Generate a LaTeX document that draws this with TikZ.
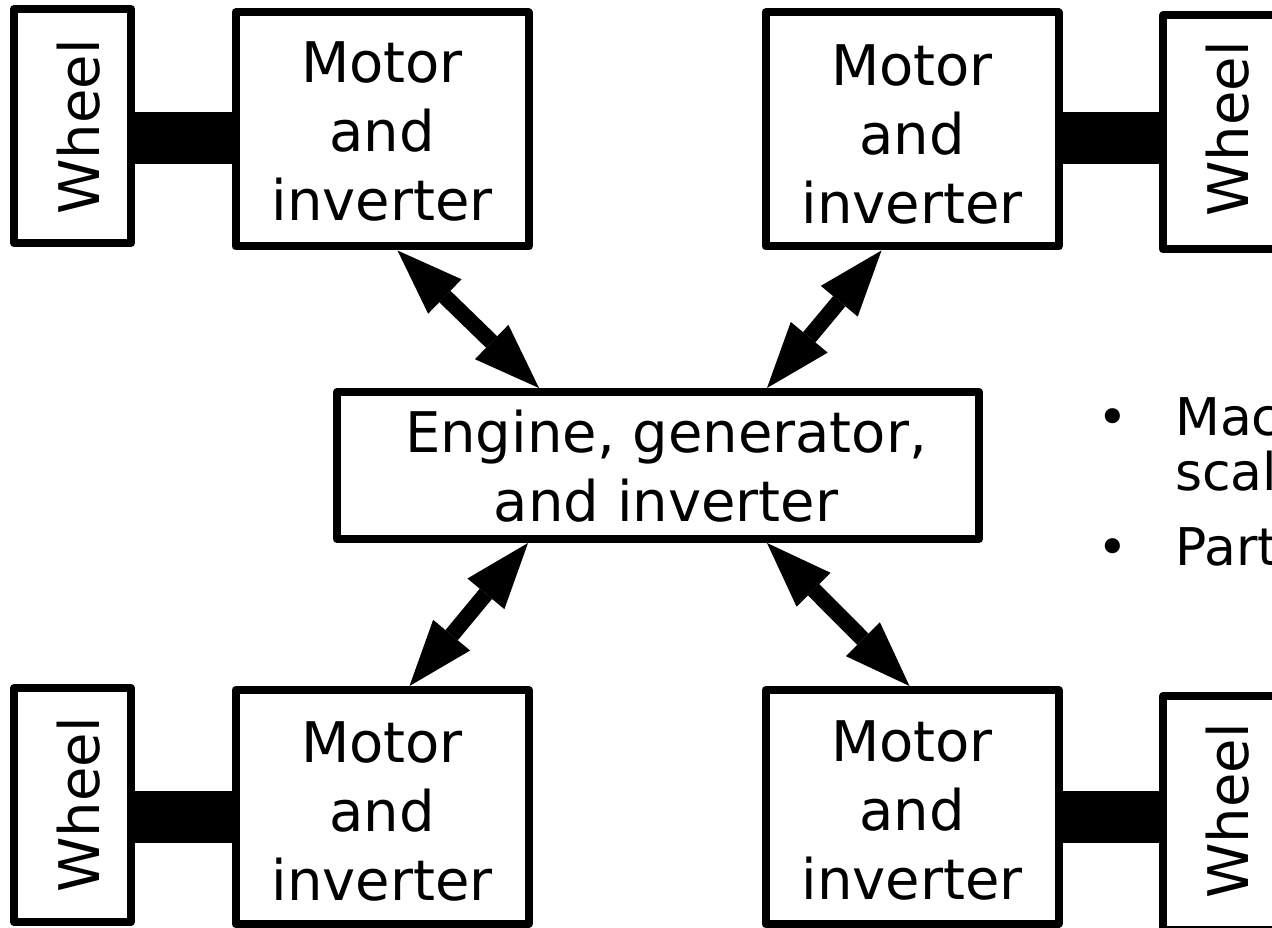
\documentclass[tikz,border=0pt]{standalone}
\usepackage{fontspec}
\setmainfont{DejaVu Sans}
\usetikzlibrary{arrows.meta,calc}
\begin{document}
\begin{tikzpicture}[x=1pt,y=-1pt,
  box/.style={draw=black, line width=8pt, line join=round, fill=white, inner sep=0pt},
  wheelbox/.style={box, minimum width=117pt, minimum height=234pt},
  motorbox/.style={box, minimum width=293pt, minimum height=234pt},
  shaft/.style={draw=black, line width=52pt, line cap=butt},
  link/.style={draw=black, line width=16pt,
    {Triangle[length=66pt,width=48pt,line width=0pt]}-{Triangle[length=66pt,width=48pt,line width=0pt]}},
  lbl/.style={font=\fontsize{56}{69}\selectfont, align=center, inner sep=0pt},
  side/.style={font=\fontsize{52}{55}\selectfont, inner sep=0pt}
]
\useasboundingbox (0,0) rectangle (1272,928);
\clip (0,0) rectangle (1272,928);
\fill[white] (0,0) rectangle (1272,928);

% wheels and motor/inverter units
\node[wheelbox] (TLW) at (72.5,126) {};
\node[motorbox] (TLM) at (382,129.5) {};
\node[motorbox] (TRM) at (912,129.5) {};
\node[wheelbox] (TRW) at (1221.5,132.5) {};
\node[wheelbox] (BLW) at (72.5,805) {};
\node[motorbox] (BLM) at (382,807) {};
\node[motorbox] (BRM) at (912,807) {};
\node[wheelbox] (BRW) at (1221.5,813) {};

% central engine block
\node[box, minimum width=642pt, minimum height=147pt] (ENG) at (658,465.5) {};

% drive shafts
\draw[shaft] ($(TLW.east)+(0,12)$) -- ($(TLM.west)+(0,8.5)$);
\draw[shaft] ($(TRM.east)+(0,8.5)$) -- ($(TRW.west)+(0,5.5)$);
\draw[shaft] ($(BLW.east)+(0,11.5)$) -- ($(BLM.west)+(0,9.5)$);
\draw[shaft] ($(BRM.east)+(0,9.5)$) -- ($(BRW.west)+(0,3.5)$);

% power links
\draw[link] ($(TLM.south west)+(166,0)$) -- ($(ENG.north west)+(206,0)$);
\draw[link] ($(TRM.south west)+(120,0)$) -- ($(ENG.north west)+(434,0)$);
\draw[link] ($(ENG.south west)+(195,0)$) -- ($(BLM.north west)+(178,0)$);
\draw[link] ($(ENG.south west)+(434,0)$) -- ($(BRM.north west)+(148,0)$);

% labels
\node[lbl] (tTLM) at (382,131.5) {Motor\\and\\inverter};
\node[lbl] (tTRM) at (912,134.5) {Motor\\and\\inverter};
\node[lbl] (tBLM) at (382,811.5) {Motor\\and\\inverter};
\node[lbl] (tBRM) at (912,810.5) {Motor\\and\\inverter};
\node[lbl] (tENG) at (666,466.5) {Engine, generator,\\and inverter};
\node[lbl, rotate=90] (tTLW) at (78.7,127) {Wheel};
\node[lbl, rotate=90] (tTRW) at (1227.7,129) {Wheel};
\node[lbl, rotate=90] (tBLW) at (78.7,805) {Wheel};
\node[lbl, rotate=90] (tBRW) at (1227.7,811) {Wheel};

% bullet list at the right
\node[side, anchor=base] (b1) at (1113,435) {•};
\node[side, anchor=base] (b2) at (1113,565) {•};
\node[side, anchor=base west] (l1) at (1175,435) {Mac};
\node[side, anchor=base west] (l2) at (1175,490) {scal};
\node[side, anchor=base west] (l3) at (1175,565) {Part};
\end{tikzpicture}
\end{document}
